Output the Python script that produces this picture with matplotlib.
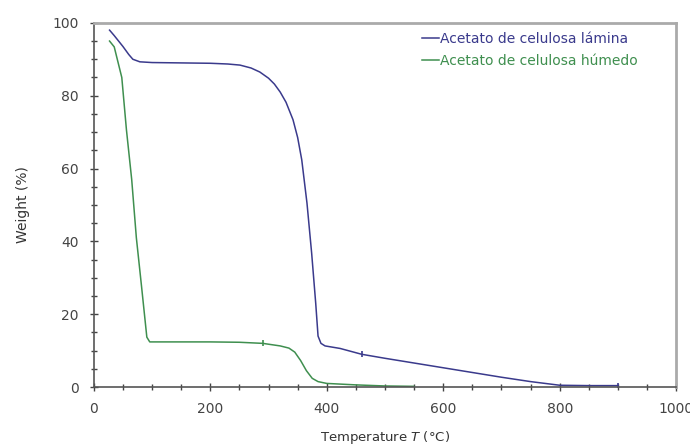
import matplotlib.pyplot as plt
from matplotlib.ticker import MultipleLocator

# TGA curves
lamina_T = [27, 35, 50, 60, 67, 79, 100, 150, 200, 230, 251, 270, 285, 300, 310, 320, 330, 342,
            350, 357, 366, 374, 381, 385, 390, 397, 423, 460, 500, 550, 600, 650, 700, 750, 800,
            850, 900]
lamina_W = [98, 96.5, 93.5, 91.3, 90, 89.3, 89.1, 89, 88.9, 88.7, 88.4, 87.6, 86.5, 84.8, 83.2,
            81, 78.2, 73.4, 68.5, 62.4, 50.5, 36.8, 23, 14, 12, 11.3, 10.6, 9, 7.9, 6.6, 5.3,
            4, 2.7, 1.5, 0.5, 0.4, 0.4]

humedo_T = [27, 35, 48, 56, 65, 73, 82, 91, 96, 150, 200, 250, 290, 320, 335, 345, 355, 365,
            375, 385, 400, 450, 500, 550]
humedo_W = [95, 93.4, 85, 70.6, 57, 41, 27.5, 13.7, 12.4, 12.4, 12.4, 12.3, 12, 11.3, 10.7, 9.6,
            7.3, 4.5, 2.4, 1.5, 1, 0.6, 0.3, 0.2]

# small data markers on the curves
lamina_mark_T = [460, 900]
lamina_mark_W = [9, 0.4]
humedo_mark_T = [290]
humedo_mark_W = [12]

blue = "#3a3a8c"
green = "#3f8f4f"

fig = plt.figure(figsize=(6.9, 4.48), dpi=100)
ax = fig.add_axes([0.136, 0.136, 0.844, 0.813])

ax.plot(lamina_T, lamina_W, color=blue, lw=1.1, label="Acetato de celulosa lámina")
ax.plot(humedo_T, humedo_W, color=green, lw=1.1, label="Acetato de celulosa húmedo")
ax.plot(lamina_mark_T, lamina_mark_W, ls="none", marker="|", ms=5, mew=1.2, color=blue)
ax.plot(humedo_mark_T, humedo_mark_W, ls="none", marker="|", ms=5, mew=1.2, color=green)

ax.set_xlim(0, 1000)
ax.set_ylim(0, 100)
ax.xaxis.set_major_locator(MultipleLocator(200))
ax.xaxis.set_minor_locator(MultipleLocator(50))
ax.yaxis.set_major_locator(MultipleLocator(20))
ax.yaxis.set_minor_locator(MultipleLocator(5))
ax.tick_params(which="both", direction="inout", colors="#444444", labelsize=10, width=1)
ax.tick_params(which="major", length=6, pad=8)
ax.tick_params(which="minor", length=4)

for s in ["top", "right"]:
    ax.spines[s].set_color("#aaaaaa")
    ax.spines[s].set_linewidth(2)
for s in ["left", "bottom"]:
    ax.spines[s].set_color("#555555")
    ax.spines[s].set_linewidth(1.2)

ax.set_xlabel("Temperature $\\mathit{T}$ (°C)", fontsize=9.5, color="#333333", labelpad=9)
ax.set_ylabel("Weight (%)", fontsize=10, color="#333333", labelpad=16)

leg = ax.legend(loc="upper left", frameon=False, fontsize=10, handlelength=1.2,
                handletextpad=0.1, labelspacing=0.55, borderaxespad=0, borderpad=0,
                bbox_to_anchor=(0.5636, 0.975))
for txt, c in zip(leg.get_texts(), [blue, green]):
    txt.set_color(c)

fig.savefig("out.png", dpi=100)
